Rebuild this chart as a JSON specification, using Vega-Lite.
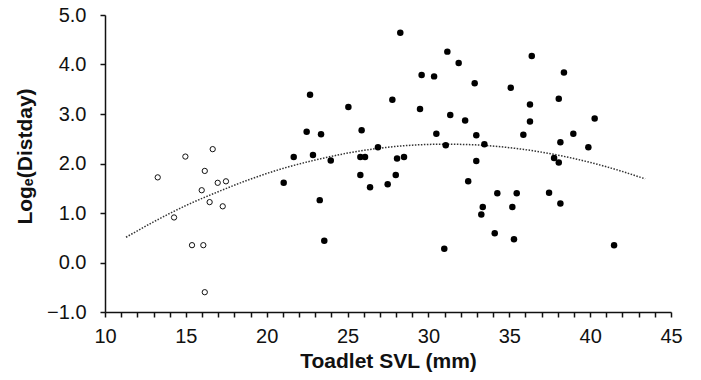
{
  "$schema": "https://vega.github.io/schema/vega-lite/v6.json",
  "autosize": "none",
  "width": 566,
  "height": 297,
  "padding": {"left": 105, "top": 15, "right": 30, "bottom": 68},
  "background": "white",
  "config": {
    "view": {"stroke": null},
    "axis": {
      "labelFont": "Liberation Sans",
      "titleFont": "Liberation Sans",
      "labelFontSize": 20,
      "titleFontSize": 21,
      "titleFontWeight": "bold",
      "labelColor": "#111",
      "titleColor": "#111",
      "domainColor": "#111",
      "tickColor": "#111",
      "domainWidth": 1.5,
      "tickWidth": 1.5,
      "tickSize": 5,
      "grid": false
    }
  },
  "datasets": {
    "points": [
      {"svl": 16.66, "logd": 2.29, "group": "small"},
      {"svl": 14.97, "logd": 2.14, "group": "small"},
      {"svl": 16.17, "logd": 1.85, "group": "small"},
      {"svl": 13.26, "logd": 1.72, "group": "small"},
      {"svl": 16.97, "logd": 1.61, "group": "small"},
      {"svl": 17.48, "logd": 1.64, "group": "small"},
      {"svl": 15.98, "logd": 1.46, "group": "small"},
      {"svl": 16.47, "logd": 1.22, "group": "small"},
      {"svl": 17.28, "logd": 1.135, "group": "small"},
      {"svl": 14.27, "logd": 0.91, "group": "small"},
      {"svl": 15.38, "logd": 0.35, "group": "small"},
      {"svl": 16.08, "logd": 0.35, "group": "small"},
      {"svl": 16.17, "logd": -0.6, "group": "small"},
      {"svl": 28.26, "logd": 4.64, "group": "large"},
      {"svl": 31.17, "logd": 4.26, "group": "large"},
      {"svl": 31.87, "logd": 4.03, "group": "large"},
      {"svl": 29.58, "logd": 3.79, "group": "large"},
      {"svl": 30.35, "logd": 3.76, "group": "large"},
      {"svl": 22.68, "logd": 3.39, "group": "large"},
      {"svl": 27.77, "logd": 3.29, "group": "large"},
      {"svl": 25.05, "logd": 3.14, "group": "large"},
      {"svl": 29.48, "logd": 3.1, "group": "large"},
      {"svl": 31.35, "logd": 2.98, "group": "large"},
      {"svl": 32.27, "logd": 2.87, "group": "large"},
      {"svl": 25.87, "logd": 2.67, "group": "large"},
      {"svl": 22.47, "logd": 2.64, "group": "large"},
      {"svl": 23.36, "logd": 2.59, "group": "large"},
      {"svl": 30.49, "logd": 2.6, "group": "large"},
      {"svl": 31.07, "logd": 2.37, "group": "large"},
      {"svl": 26.88, "logd": 2.33, "group": "large"},
      {"svl": 21.67, "logd": 2.13, "group": "large"},
      {"svl": 22.86, "logd": 2.17, "group": "large"},
      {"svl": 23.96, "logd": 2.06, "group": "large"},
      {"svl": 25.79, "logd": 2.13, "group": "large"},
      {"svl": 26.08, "logd": 2.13, "group": "large"},
      {"svl": 28.06, "logd": 2.1, "group": "large"},
      {"svl": 28.49, "logd": 2.13, "group": "large"},
      {"svl": 21.05, "logd": 1.61, "group": "large"},
      {"svl": 25.79, "logd": 1.77, "group": "large"},
      {"svl": 27.98, "logd": 1.77, "group": "large"},
      {"svl": 26.39, "logd": 1.52, "group": "large"},
      {"svl": 27.48, "logd": 1.58, "group": "large"},
      {"svl": 32.46, "logd": 1.64, "group": "large"},
      {"svl": 23.28, "logd": 1.26, "group": "large"},
      {"svl": 23.56, "logd": 0.44, "group": "large"},
      {"svl": 30.98, "logd": 0.28, "group": "large"},
      {"svl": 36.39, "logd": 4.17, "group": "large"},
      {"svl": 38.38, "logd": 3.84, "group": "large"},
      {"svl": 32.86, "logd": 3.62, "group": "large"},
      {"svl": 35.09, "logd": 3.53, "group": "large"},
      {"svl": 38.06, "logd": 3.31, "group": "large"},
      {"svl": 36.28, "logd": 3.19, "group": "large"},
      {"svl": 36.28, "logd": 2.85, "group": "large"},
      {"svl": 40.28, "logd": 2.91, "group": "large"},
      {"svl": 32.96, "logd": 2.57, "group": "large"},
      {"svl": 35.87, "logd": 2.58, "group": "large"},
      {"svl": 38.96, "logd": 2.6, "group": "large"},
      {"svl": 33.46, "logd": 2.39, "group": "large"},
      {"svl": 38.16, "logd": 2.43, "group": "large"},
      {"svl": 39.89, "logd": 2.33, "group": "large"},
      {"svl": 37.77, "logd": 2.11, "group": "large"},
      {"svl": 38.06, "logd": 2.02, "group": "large"},
      {"svl": 32.96, "logd": 2.05, "group": "large"},
      {"svl": 34.26, "logd": 1.4, "group": "large"},
      {"svl": 35.46, "logd": 1.4, "group": "large"},
      {"svl": 37.46, "logd": 1.41, "group": "large"},
      {"svl": 38.16, "logd": 1.19, "group": "large"},
      {"svl": 33.36, "logd": 1.12, "group": "large"},
      {"svl": 33.27, "logd": 0.97, "group": "large"},
      {"svl": 35.19, "logd": 1.12, "group": "large"},
      {"svl": 34.1, "logd": 0.59, "group": "large"},
      {"svl": 35.29, "logd": 0.47, "group": "large"},
      {"svl": 41.48, "logd": 0.35, "group": "large"}
    ],
    "trend": [
      {"svl": 11.3, "logd": 0.51},
      {"svl": 13, "logd": 0.82},
      {"svl": 15, "logd": 1.15},
      {"svl": 17, "logd": 1.43},
      {"svl": 19, "logd": 1.685},
      {"svl": 21, "logd": 1.9},
      {"svl": 23, "logd": 2.07},
      {"svl": 25, "logd": 2.21},
      {"svl": 27, "logd": 2.31},
      {"svl": 29, "logd": 2.37},
      {"svl": 31, "logd": 2.39},
      {"svl": 33, "logd": 2.375},
      {"svl": 35, "logd": 2.32},
      {"svl": 37, "logd": 2.23},
      {"svl": 39, "logd": 2.1},
      {"svl": 41, "logd": 1.935},
      {"svl": 43.4, "logd": 1.69}
    ]
  },
  "encoding": {
    "x": {
      "field": "svl",
      "type": "quantitative",
      "scale": {"domain": [10, 45], "nice": false, "zero": false},
      "axis": {
        "title": "Toadlet SVL (mm)",
        "values": [10,11,12,13,14,15,16,17,18,19,20,21,22,23,24,25,26,27,28,29,30,31,32,33,34,35,36,37,38,39,40,41,42,43,44,45],
        "labelExpr": "datum.value % 5 === 0 ? format(datum.value, 'd') : ''",
        "labelOverlap": false,
        "labelFlush": false,
        "labelPadding": 9,
        "titleBaseline": "alphabetic",
        "titleY": 55
      }
    },
    "y": {
      "field": "logd",
      "type": "quantitative",
      "scale": {"domain": [-1, 5], "nice": false, "zero": false},
      "axis": {
        "title": "Logₑ(Distday)",
        "values": [-1, 0, 1, 2, 3, 4, 5],
        "format": ".1f",
        "labelPadding": 14,
        "labelFlush": false,
        "titleX": -80,
        "titleY": 141,
        "titleAngle": -90,
        "titleAlign": "center",
        "titleBaseline": "middle"
      }
    }
  },
  "layer": [
    {
      "data": {"name": "trend"},
      "mark": {"type": "line", "color": "#333", "strokeWidth": 1.5, "strokeDash": [1.5, 1.5], "interpolate": "monotone"}
    },
    {
      "data": {"name": "points"},
      "transform": [{"filter": "datum.group === 'small'"}],
      "mark": {"type": "point", "shape": "circle", "filled": false, "stroke": "#111", "strokeWidth": 1, "size": 28, "opacity": 1}
    },
    {
      "data": {"name": "points"},
      "transform": [{"filter": "datum.group === 'large'"}],
      "mark": {"type": "point", "shape": "circle", "filled": true, "fill": "#000", "size": 42, "opacity": 1}
    }
  ]
}
